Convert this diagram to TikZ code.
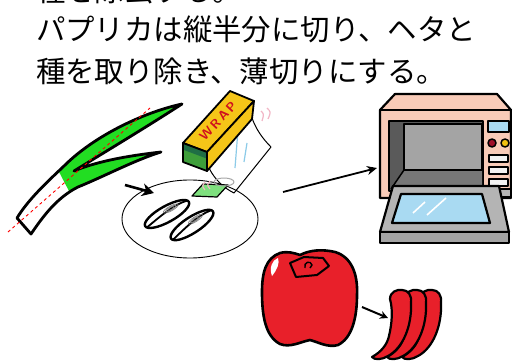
\documentclass[tikz,border=0pt]{standalone}
\usepackage{fontspec}
\newfontfamily\jpfont{Noto Sans CJK JP}
\usetikzlibrary{arrows.meta,calc,shapes.geometric}
\definecolor{leafgreen}{HTML}{22DD22}
\definecolor{wrapyellow}{HTML}{F5C518}
\definecolor{wrapgreen}{HTML}{3E9E3A}
\definecolor{wrapdark}{HTML}{1F6E45}
\definecolor{wrapred}{HTML}{D0101E}
\definecolor{filmblue}{HTML}{8CCBE8}
\definecolor{softpink}{HTML}{F2B6C6}
\definecolor{plategreen}{HTML}{7EE07E}
\definecolor{ovenpink}{HTML}{F8CBB8}
\definecolor{ovendark}{HTML}{5A5A5A}
\definecolor{ovengray}{HTML}{A4A4A4}
\definecolor{ovenfloor}{HTML}{777777}
\definecolor{doorgray}{HTML}{B4B4B4}
\definecolor{glassblue}{HTML}{A9DAF2}
\definecolor{knobred}{HTML}{A0102A}
\definecolor{knobyellow}{HTML}{F0C010}
\definecolor{pepperred}{HTML}{E8202A}
% outline of the leek, used for the clip and the stroke
\newcommand{\negioutline}{(17,218) -- (31,234)
  .. controls (42,218) and (56,198) .. (78,187)
  .. controls (105,176) and (135,160) .. (161,152)
  .. controls (135,155) and (100,160) .. (74,171)
  .. controls (100,155) and (145,128) .. (182,104)
  .. controls (145,112) and (95,135) .. (64,166)
  .. controls (45,184) and (28,200) .. (17,218) -- cycle}

\begin{document}
\begin{tikzpicture}[x=1pt, y=-1pt, >=Stealth, line join=round,
    ink/.style={draw=black, line width=2.2pt},
    jptext/.style={anchor=base west, inner sep=0pt, font=\jpfont\fontsize{29.4}{29.4}\selectfont}]
	\clip (0,0) rectangle (512,361);
	\fill[white] (0,0) rectangle (512,361);

	% text
	\node[jptext] (prevline) at (36,2) {種を除去する。};
	\node[jptext] (stepline) at (36,41) {パプリカは縦半分に切り、ヘタと};
	\node[jptext] (stepnext) at (36,83) {種を取り除き、薄切りにする。};

	% leek
	\begin{scope}
		\clip \negioutline;
		\fill[white] (0,90) rectangle (200,240);
		\fill[leafgreen] (57,168) -- (70,193) -- (200,193) -- (200,90) -- (57,90) -- cycle;
	\end{scope}
	\draw[ink, line width=2.8pt] \negioutline;
	\draw[red, line width=0.9pt, dash pattern=on 3pt off 3pt] (8,232) -- (150,108);

	% wrap box
	\coordinate (wA) at (183,143);
	\coordinate (wB) at (207,152);
	\coordinate (wC) at (207,171);
	\coordinate (wD) at (183,162);
	\coordinate (wE) at (230,91);
	\coordinate (wF) at (254,101);
	\coordinate (wG) at (252,119);
	\filldraw[black, line width=1pt, fill=white, fill opacity=0.6] (209,168) .. controls (215,180) and (224,188) .. (234,193) -- (271,147) .. controls (262,138) and (256,129) .. (252,118);
	\draw[filmblue, line width=1.2pt] (238,130) -- (235,168) (247,143) -- (244,162);
	\draw[softpink, line width=1.2pt] (261,111) .. controls (264,114) .. (262,121) (267,108) .. controls (271,112) .. (268,119);
	\filldraw[ink, line width=1.8pt, fill=wrapyellow] (wA) -- (wB) -- (wF) -- (wE) -- cycle;
	\filldraw[ink, line width=1.8pt, fill=wrapyellow] (wB) -- (wC) -- (wG) -- (wF) -- cycle;
	\fill[wrapgreen] (wA) -- (wB) -- (wC) -- (wD) -- cycle;
	\fill[wrapdark] (wA) -- (wB) -- ($(wB)!0.35!(wC)$) -- ($(wA)!0.35!(wD)$) -- cycle;
	\draw[ink, line width=1.8pt] (wA) -- (wB) -- (wC) -- (wD) -- cycle;
	\node[rotate=47, text=wrapred, inner sep=0pt, font=\sffamily\bfseries\fontsize{13}{13}\selectfont] (wraplabel) at (218,121) {W\,R\,A\,P};

	% bowl with the slices
	\node[draw, ellipse, line width=0.9pt, minimum width=136pt, minimum height=78pt, inner sep=0pt] (bowl) at (190,219) {};
	\filldraw[black, line width=1.2pt, fill=plategreen] (192,196) -- (203,184) -- (228,185) -- (217,197) -- cycle;
	\draw[gray!70, line width=1pt] (224,182) ellipse (10 and 4);
	\draw[softpink, line width=1.2pt] (205,182) .. controls (202,186) .. (205,190) (210,181) .. controls (207,185) .. (210,189);
	\foreach \cx/\cy/\ang in {167/214/29, 192/225/33} {
		\begin{scope}[shift={(\cx,\cy)}, rotate=\ang]
			\filldraw[ink, line width=2.4pt, fill=white] (0,0) ellipse (25 and 8);
			\draw[line width=1.8pt] (-24,2) .. controls (-8,-1) and (10,-5) .. (24,-2);
			\foreach \r in {3,5,7} {
				\draw[gray, line width=0.6pt] (6,-3) ellipse ({\r*1.2} and {\r*0.35});
			}
		\end{scope}
	}
	\coordinate (toBowlA) at (125,185);
	\coordinate (toBowlB) at (154,193);
	\draw[line width=2.6pt, -{Stealth[length=12pt, width=13pt]}] (toBowlA) -- (toBowlB);

	% microwave
	\coordinate (toOvenA) at (283,192);
	\coordinate (toOvenB) at (377,168);
	\draw[line width=1.8pt, -{Stealth[length=10pt, width=9pt]}] (toOvenA) -- (toOvenB);
	\filldraw[ink, fill=ovenpink] (380,198) -- (380,110) -- (395,94) -- (497,94) -- (511,110) -- (511,198) -- cycle;
	\draw[ink] (380,110) -- (511,110);
	\filldraw[ink, fill=ovendark] (389,121) rectangle (483,191);
	\fill[ovenfloor] (404,170) -- (482,170) -- (482,189) -- (391,189) -- cycle;
	\filldraw[black, line width=1.5pt, fill=ovengray] (404,124) rectangle (482,170);
	\draw[black, line width=1.5pt] (404,170) -- (391,189);
	\filldraw[black, line width=1.5pt, fill=doorgray] (483,189) rectangle (511,197);
	\filldraw[black, line width=1.5pt, fill=glassblue] (488,121) rectangle (509,132);
	\filldraw[black, line width=1.5pt, fill=knobred] (492,143) circle (4);
	\filldraw[black, line width=1.5pt, fill=knobyellow] (505,143) circle (4);
	\foreach \yb in {155,167,179} {
		\filldraw[black, line width=1.5pt, fill=white!90!gray] (489,\yb) rectangle (508,\yb+7);
	}
	\filldraw[ink, fill=doorgray] (393,186) -- (499,186) -- (509,232) -- (380,232) -- cycle;
	\filldraw[ink, fill=ovengray] (380,232) rectangle (509,243);
	\filldraw[ink, fill=glassblue] (401,194) -- (482,194) -- (490,223) -- (392,223) -- cycle;
	\draw[white, line width=1.6pt] (413,213) -- (425,202) (427,215) -- (446,198);

	% paprika and the sliced strips
	\filldraw[ink, line width=2.6pt, fill=pepperred] (300,255) .. controls (310,250) and (322,249) .. (335,252)
		.. controls (352,257) and (358,275) .. (357,295)
		.. controls (357,318) and (352,338) .. (338,345)
		.. controls (328,348) and (318,342) .. (310,340)
		.. controls (300,342) and (290,348) .. (280,344)
		.. controls (265,336) and (262,315) .. (262,292)
		.. controls (262,272) and (266,258) .. (280,253)
		.. controls (288,251) and (294,253) .. (300,255) -- cycle;
	\fill[white] (272,276) .. controls (269,268) and (272,260) .. (278,258) .. controls (280,263) and (277,270) .. (272,276) -- cycle;
	\filldraw[black, line width=2pt, fill=pepperred] (290,263) -- (304,257) -- (323,258) -- (329,266) -- (317,275) -- (296,277) -- cycle;
	\draw[line width=1.4pt] (305,268) .. controls (303,262) and (311,260) .. (312,265) -- (310,268);
	\coordinate (toSliceA) at (362,307);
	\coordinate (toSliceB) at (388,318);
	\draw[line width=2pt, -{Stealth[length=8pt, width=8pt]}] (toSliceA) -- (toSliceB);
	\foreach \dx in {30,15,0} {
		\filldraw[ink, fill=pepperred, shift={(\dx,0)}] (390,299) .. controls (390,292) and (397,289) .. (402,290)
			.. controls (408,290) and (412,295) .. (411,303)
			.. controls (412,326) and (403,348) .. (388,356)
			.. controls (382,360) and (374,360) .. (372,357)
			.. controls (381,352) and (387,345) .. (389,336)
			.. controls (392,323) and (393,310) .. (390,299) -- cycle;
	}
\end{tikzpicture}
\end{document}
